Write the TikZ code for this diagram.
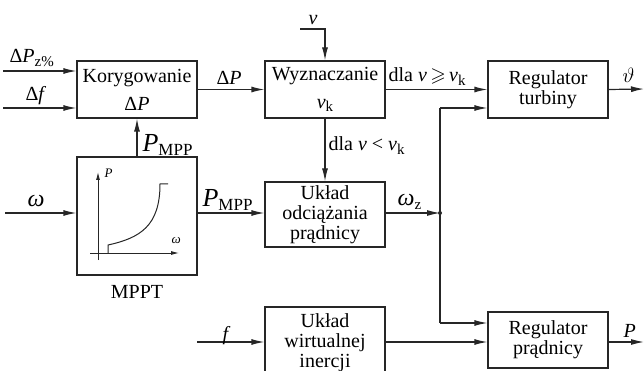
\documentclass[tikz,border=0pt]{standalone}
\usepackage{fontspec}
\usepackage{amssymb}
\setmainfont{Liberation Serif}
\usetikzlibrary{arrows.meta}
\newcommand\sbs[1]{\raisebox{-0.35ex}{\fontsize{15}{15}\selectfont #1}}
\begin{document}
\begin{tikzpicture}[x=1pt,y=-1pt,line width=1.2pt,
  blk/.style={draw=black!85, minimum width=120pt, inner sep=0pt, align=center, font=\fontsize{20}{20}\selectfont},
  arr/.style={draw=black!85,-{Latex[length=13pt,width=6pt]}},
  sarr/.style={draw=black!85,line width=0.9pt,-{Latex[length=8pt,width=4pt]}},
  lbl/.style={inner sep=0pt, font=\fontsize{20}{20}\selectfont}]
\useasboundingbox (0,0) rectangle (644,371);
\clip (0,0) rectangle (644,371);
% blocks
\node[blk, minimum height=57pt] (kor) at (137,89.5) {Korygowanie\\[8pt]Δ\textit{P}};
\node[blk, minimum height=57pt] (wyz) at (325,89.5) {Wyznaczanie\\[8pt]\textit{v}\sbs{k}};
\node[blk, minimum height=57pt] (regt) at (548,89.5) {Regulator\\turbiny};
\node[blk, minimum height=118pt] (mppt) at (137,216) {};
\node[blk, minimum height=65pt] (uod) at (325,214.5) {Układ\\odciążania\\prądnicy};
\node[blk, minimum height=72pt] (wir) at (325,343) {Układ\\wirtualnej\\inercji};
\node[blk, minimum height=56pt] (regp) at (548,340) {Regulator\\prądnicy};
% coordinates
\coordinate (i1) at (3,71);
\coordinate (i2) at (3,108);
\coordinate (vin) at (300,29);
\coordinate (om) at (5,213);
\coordinate (fin) at (197,342);
\coordinate (th) at (644,89);
\coordinate (pout) at (644,342);
\coordinate (jt) at (440,108);
\coordinate (jm) at (440,213);
\coordinate (jb) at (440,323);
% connectors
\draw[arr] (i1) -- (i1 -| kor.west);
\draw[arr] (i2) -- (i2 -| kor.west);
\draw[arr] (kor.east) -- (wyz.west);
\draw[arr] (vin) -| (wyz.north);
\draw[arr] (wyz.east) -- (regt.west);
\draw[arr] (regt.east) -- (th);
\draw[arr] (mppt.north) -- (kor.south);
\draw[arr] (om) -- (om -| mppt.west);
\draw[arr] (om -| mppt.east) -- (om -| uod.west);
\draw[arr] (wyz.south) -- (uod.north);
\draw[arr] (om -| uod.east) -- (jm);
\fill[black!85] (jm) circle (2pt);
\draw[draw=black!85] (jt) -- (jb);
\draw[arr] (jt) -- (jt -| regt.west);
\draw[arr] (jb) -- (jb -| regp.west);
\draw[arr] (fin) -- (fin -| wir.west);
\draw[arr] (fin -| wir.east) -- (fin -| regp.west);
\draw[arr] (fin -| regp.east) -- (pout);
% MPPT chart
\coordinate (ya0) at (98,260);
\coordinate (ya1) at (98,172);
\coordinate (xa0) at (90,253);
\coordinate (xa1) at (179,253);
\draw[sarr] (ya0) -- (ya1);
\draw[sarr] (xa0) -- (xa1);
\draw[draw=black!85,line width=1pt] (108,253) -- (108,245) .. controls (140,238) and (160,226) .. (160,184) -- (168,184);
\node[lbl, anchor=base west, font=\fontsize{13}{13}\selectfont] at (104,178) {\textit{P}};
\node[lbl, anchor=base west, font=\fontsize{13}{13}\selectfont] at (171,243) {\textit{ω}};
% labels
\node[lbl, anchor=base west] at (9,63) {Δ\textit{P}\sbs{z\%}};
\node[lbl, anchor=base west] at (25,101) {Δ\textit{f}};
\node[lbl, anchor=base west] at (216,85) {Δ\textit{P}};
\node[lbl, anchor=base west] at (308,25) {\textit{v}};
\node[lbl, anchor=base west] at (388,82) {dla \textit{v}\,$\geqslant$\,\textit{v}\sbs{k}};
\node[lbl, anchor=base west] at (622,83) {$\vartheta$};
\node[lbl, anchor=base west] at (142,152) {{\fontsize{26}{26}\selectfont\textit{P}}\sbs{\fontsize{17}{17}\selectfont MPP}};
\node[lbl, anchor=base west] at (328,151) {dla \textit{v} < \textit{v}\sbs{k}};
\node[lbl, anchor=base west, font=\fontsize{24}{24}\selectfont] at (27,207) {\textit{ω}};
\node[lbl, anchor=base west] at (202,207) {{\fontsize{26}{26}\selectfont\textit{P}}\sbs{\fontsize{17}{17}\selectfont MPP}};
\node[lbl, anchor=base west] at (397,206) {{\fontsize{24}{24}\selectfont\textit{ω}}\sbs{z}};
\node[lbl, anchor=base] at (137,298) {MPPT};
\node[lbl, anchor=base west] at (222,340) {\textit{f}};
\node[lbl, anchor=base west] at (623,337) {\textit{P}};
\end{tikzpicture}
\end{document}
